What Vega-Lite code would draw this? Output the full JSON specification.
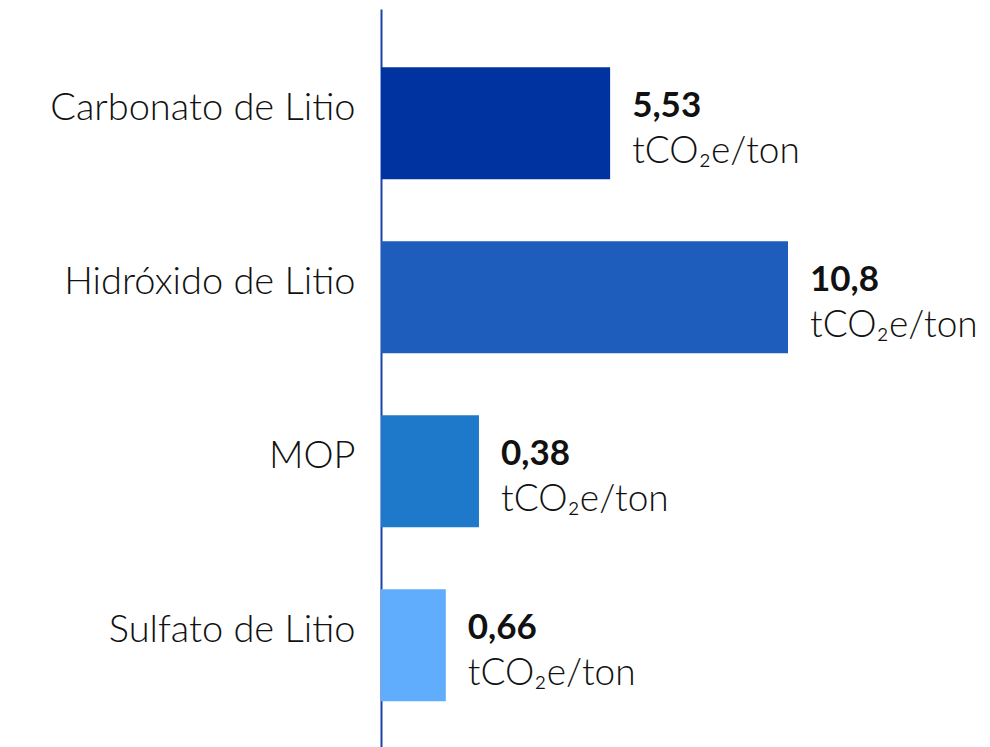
{
  "$schema": "https://vega.github.io/schema/vega-lite/v6.json",
  "width": 609,
  "height": 738,
  "autosize": "none",
  "padding": {"left": 381, "top": 9, "right": 0, "bottom": 0},
  "data": {
    "values": [
      {"producto": "Carbonato de Litio", "valor": 5.53, "etiqueta": "5,53", "barra": 6.08},
      {"producto": "Hidróxido de Litio", "valor": 10.8, "etiqueta": "10,8", "barra": 10.8},
      {"producto": "MOP", "valor": 0.38, "etiqueta": "0,38", "barra": 2.6},
      {"producto": "Sulfato de Litio", "valor": 0.66, "etiqueta": "0,66", "barra": 1.72}
    ]
  },
  "encoding": {
    "y": {
      "field": "producto",
      "type": "nominal",
      "sort": null,
      "scale": {"paddingInner": 0.356, "paddingOuter": 0.299, "align": 0.56},
      "axis": {
        "title": null,
        "domainColor": "#1a44a8",
        "domainWidth": 2,
        "ticks": false,
        "grid": false,
        "labelFont": "Lato",
        "labelFontSize": 38,
        "labelFontWeight": 300,
        "labelColor": "#111111",
        "labelPadding": 26,
        "labelOffset": -14,
        "labelLimit": 0
      }
    },
    "x": {
      "field": "barra",
      "type": "quantitative",
      "scale": {"domain": [0, 16.16], "nice": false},
      "axis": null
    }
  },
  "layer": [
    {
      "mark": {"type": "bar"},
      "encoding": {
        "color": {
          "field": "producto",
          "type": "nominal",
          "scale": {
            "domain": ["Carbonato de Litio", "Hidróxido de Litio", "MOP", "Sulfato de Litio"],
            "range": ["#0033a0", "#1f5dbd", "#1e79ca", "#60adfe"]
          },
          "legend": null
        }
      }
    },
    {
      "mark": {"type": "text", "align": "left", "baseline": "middle", "dx": 22, "dy": -17, "font": "Lato", "fontSize": 35, "fontWeight": "bold", "color": "#111111"},
      "encoding": {"text": {"field": "etiqueta"}}
    },
    {
      "mark": {"type": "text", "align": "left", "baseline": "middle", "dx": 22, "dy": 29, "font": "Lato", "fontSize": 37, "fontWeight": 300, "color": "#111111", "text": "tCO₂e/ton"},
      "encoding": {}
    }
  ],
  "config": {"view": {"stroke": null}}
}
